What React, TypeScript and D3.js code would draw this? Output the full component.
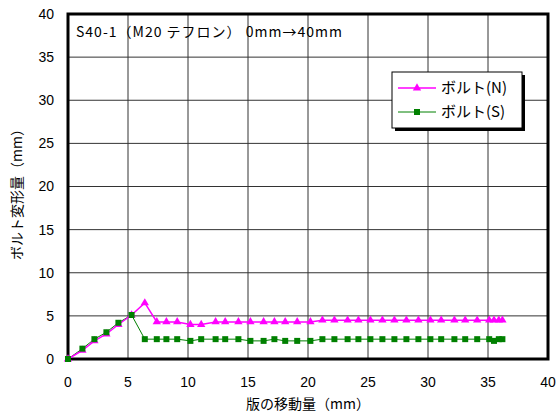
import React from "react";
import * as d3 from "d3";

// Plate displacement (mm) at each load step
const xValues = [0, 1.2, 2.2, 3.2, 4.2, 5.3, 6.4, 7.4, 8.2, 9.1, 10.2, 11.1, 12.3, 13.1, 14.2, 15.2, 16.3, 17.2, 18.1, 19.1, 20.2, 21.2, 22.2, 23.3, 24.2, 25.2, 26.2, 27.2, 28.2, 29.2, 30.2, 31.1, 32.2, 33.1, 34.1, 35.1, 35.5, 35.9, 36.2];
// Bolt deformation, north side (mm)
const boltN = [0, 1.0, 2.1, 2.9, 4.0, 5.1, 6.5, 4.3, 4.3, 4.3, 4.0, 4.0, 4.3, 4.3, 4.3, 4.3, 4.3, 4.3, 4.3, 4.3, 4.3, 4.5, 4.5, 4.5, 4.5, 4.5, 4.5, 4.5, 4.5, 4.5, 4.5, 4.5, 4.5, 4.5, 4.5, 4.5, 4.5, 4.5, 4.5];
// Bolt deformation, south side (mm)
const boltS = [0, 1.2, 2.3, 3.1, 4.2, 5.1, 2.3, 2.3, 2.3, 2.3, 2.1, 2.3, 2.3, 2.3, 2.3, 2.1, 2.1, 2.3, 2.1, 2.1, 2.1, 2.3, 2.3, 2.3, 2.3, 2.3, 2.3, 2.3, 2.3, 2.3, 2.3, 2.3, 2.3, 2.3, 2.3, 2.3, 2.1, 2.3, 2.3];

const xTicks = [0, 5, 10, 15, 20, 25, 30, 35, 40];
const yTicks = [0, 5, 10, 15, 20, 25, 30, 35, 40];

const seriesNames = ["ボルト(N)", "ボルト(S)"];
const chartTitle = "S40-1（M20 テフロン） 0mm→40mm";
const xTitle = "版の移動量（mm）";
const yTitle = "ボルト変形量（mm）";

const FONT = "'Noto Sans CJK JP', 'Noto Sans', sans-serif";
const NUM_FONT = "'Liberation Sans', Arial, sans-serif";

export default function App() {
  const W = 560, H = 416;
  const left = 68, right = 548, top = 14, bottom = 359;
  const x = d3.scaleLinear().domain([0, 40]).range([left, right]);
  const y = d3.scaleLinear().domain([0, 40]).range([bottom, top]);

  const line = d3.line<number>().x((_, i) => x(xValues[i])).y((d) => y(d));
  const tri = d3.symbol().type(d3.symbolTriangle).size(30)();
  const sq = d3.symbol().type(d3.symbolSquare).size(36)();

  const magenta = "#FF00FF";
  const green = "#008000";

  return (
    <svg width={W} height={H} style={{ position: "absolute", left: 0, top: 0, background: "#fff" }}>
      <rect x={0} y={0} width={W} height={H} fill="#fff" />
      {/* grid */}
      {yTicks.map((t) => (
        <line key={"gy" + t} x1={left} x2={right} y1={y(t)} y2={y(t)} stroke="#333" strokeWidth={1} />
      ))}
      {xTicks.map((t) => (
        <line key={"gx" + t} x1={x(t)} x2={x(t)} y1={top} y2={bottom} stroke="#333" strokeWidth={1} />
      ))}
      {/* plot frame */}
      <rect x={left} y={top} width={right - left} height={bottom - top} fill="none" stroke="#000" strokeWidth={3} />

      {/* tick labels */}
      {yTicks.map((t) => (
        <text key={"ty" + t} x={54} y={y(t)} dy="0.35em" textAnchor="end" fontFamily={NUM_FONT} fontSize={14} fill="#000">{t}</text>
      ))}
      {xTicks.map((t) => (
        <text key={"tx" + t} x={x(t)} y={382} dy="0.35em" textAnchor="middle" fontFamily={NUM_FONT} fontSize={14} fill="#000">{t}</text>
      ))}

      {/* axis titles */}
      <text x={308} y={404} dy="0.35em" textAnchor="middle" fontFamily={FONT} fontSize={14} fill="#000">{xTitle}</text>
      <text transform={`translate(17,${191}) rotate(-90)`} dy="0.35em" textAnchor="middle" fontFamily={FONT} fontSize={14} fill="#000">{yTitle}</text>

      {/* chart title */}
      <text x={76} y={32} dy="0.35em" fontFamily={FONT} fontSize={14} letterSpacing={1} fill="#000">{chartTitle}</text>

      {/* series */}
      <path d={line(boltS) || ""} fill="none" stroke={green} strokeWidth={1} />
      <path d={line(boltN) || ""} fill="none" stroke={magenta} strokeWidth={1.5} />
      {boltN.map((v, i) => (
        <path key={"n" + i} d={tri} transform={`translate(${x(xValues[i])},${y(v)})`} fill={magenta} />
      ))}
      {boltS.map((v, i) => (
        <path key={"s" + i} d={sq} transform={`translate(${x(xValues[i])},${y(v)})`} fill={green} />
      ))}

      {/* legend */}
      <rect x={395} y={75} width={130} height={56} fill="#000" />
      <rect x={392} y={72} width={130} height={56} fill="#fff" stroke="#000" strokeWidth={1} />
      <line x1={398} x2={436} y1={88} y2={88} stroke={magenta} strokeWidth={1.5} />
      <path d={tri} transform="translate(417,88)" fill={magenta} />
      <text x={441} y={88} dy="0.35em" fontFamily={FONT} fontSize={15} fill="#000">{seriesNames[0]}</text>
      <line x1={398} x2={436} y1={112} y2={112} stroke={green} strokeWidth={1} />
      <path d={sq} transform="translate(417,112)" fill={green} />
      <text x={441} y={112} dy="0.35em" fontFamily={FONT} fontSize={15} fill="#000">{seriesNames[1]}</text>
    </svg>
  );
}
